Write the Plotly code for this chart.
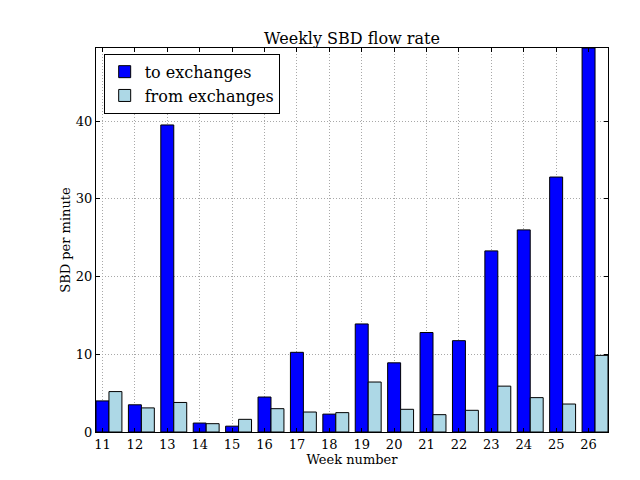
import plotly.graph_objects as go

weeks = [11, 12, 13, 14, 15, 16, 17, 18, 19, 20, 21, 22, 23, 24, 25, 26]
to_exchanges = [4.0, 3.5, 39.5, 1.15, 0.75, 4.5, 10.25, 2.3, 13.9, 8.9, 12.8, 11.75, 23.3, 26.0, 32.8, 49.4]
from_exchanges = [5.2, 3.1, 3.8, 1.07, 1.63, 3.0, 2.57, 2.49, 6.43, 2.92, 2.23, 2.79, 5.9, 4.42, 3.6, 9.86]
y_ticks = [0, 10, 20, 30, 40]

font = "DejaVu Serif"

fig = go.Figure()
fig.add_trace(go.Bar(
    x=weeks, y=to_exchanges, name="to exchanges",
    width=0.4, offset=-0.2,
    marker=dict(color="#0000ff", line=dict(color="black", width=1)),
))
fig.add_trace(go.Bar(
    x=weeks, y=from_exchanges, name="from exchanges",
    width=0.4, offset=0.2,
    marker=dict(color="#add8e6", line=dict(color="black", width=1)),
))

axis_common = dict(
    showline=True, linecolor="black", linewidth=1, mirror="ticks",
    ticks="inside", ticklen=4, tickcolor="black",
    showgrid=True, gridcolor="#a8a8a8", griddash="1px,2px", gridwidth=1,
    zeroline=False,
    tickfont=dict(family=font, size=13, color="black"),
)

fig.update_layout(
    width=640, height=480,
    margin=dict(l=88, r=40, t=40, b=56),
    paper_bgcolor="white", plot_bgcolor="white",
    barmode="overlay",
    font=dict(family=font, color="black"),
    title=dict(text="Weekly SBD flow rate", x=0.5, xref="paper", xanchor="center",
               y=1, yref="paper", yanchor="bottom", pad=dict(b=4),
               font=dict(family=font, size=16, color="black")),
    xaxis=dict(range=[10.8, 26.6], tickmode="array", tickvals=weeks,
               ticktext=[str(w) for w in weeks],
               title=dict(text="Week number", font=dict(family=font, size=13), standoff=2),
               **axis_common),
    yaxis=dict(range=[0, 49.4], tickmode="array", tickvals=y_ticks,
               title=dict(text="SBD per minute", font=dict(family=font, size=13), standoff=2),
               **axis_common),
    legend=dict(x=0.015, y=0.985, xanchor="left", yanchor="top",
                bgcolor="white", bordercolor="black", borderwidth=1,
                itemwidth=30,
                font=dict(family=font, size=16, color="black")),
    showlegend=True,
)

fig.write_html("out.html")
